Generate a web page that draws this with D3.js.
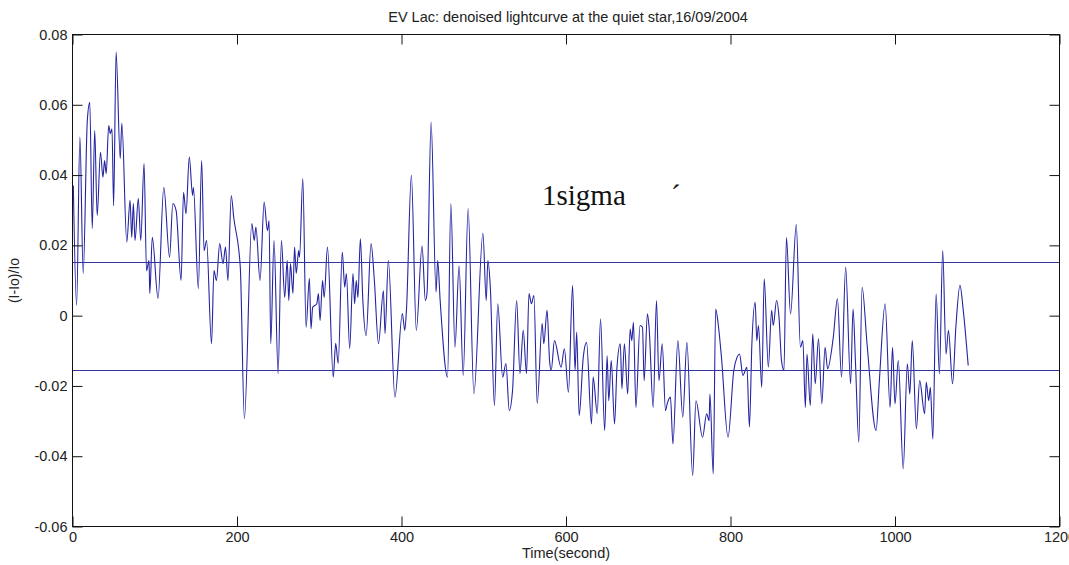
<!DOCTYPE html>
<html>
<head>
<meta charset="utf-8">
<script src="https://cdn.jsdelivr.net/npm/d3@7"></script>
<style>
  html, body { margin: 0; padding: 0; background: #fff; }
  svg { display: block; }
  text { font-family: "Liberation Sans", Arial, sans-serif; fill: #222; }
  text.note { font-family: "Liberation Serif", "Times New Roman", serif; fill: #111; }
</style>
</head>
<body>
<svg id="chart" width="1069" height="565"></svg>
<script>
// EV Lac relative intensity (I-Io)/Io versus time, after denoising
const time = [1,5,9,13,18,21,24,27,30,34,37,39,41,44,46,48,50,53,58,60,66,70,72,74,76,80,83,87,90,93,94,97,104,111,118,122,126,132,135,138,142,146,147,153,157,160,163,169,172,175,179,183,186,189,193,196,204,209,218,221,223,228,233,237,239,241,245,250,254,258,261,263,265,268,270,272,275,276,280,284,288,290,292,297,299,
  301,304,306,310,317,320,323,328,331,333,337,341,343,345,347,350,353,357,363,367,372,378,380,384,392,401,404,406,412,418,425,429,431,436,442,444,447,456,460,465,470,475,481,488,499,503,505,508,513,517,523,527,531,535,540,544,548,552,555,558,561,565,571,573,577,580,582,586,594,
  598,603,608,611,613,616,621,625,631,633,638,642,647,650,652,655,659,662,666,668,671,675,678,680,682,685,690,693,695,699,701,706,710,713,717,721,723,727,730,736,742,747,754,758,766,771,774,775,779,782,785,789,797,804,808,811,815,820,823,826,830,832,834,838,841,846,850,852,856,859,862,865,868,873,880,885,888,891,
  893,897,900,903,907,911,915,918,925,930,935,940,946,949,952,956,960,966,977,981,988,994,997,1000,1004,1010,1015,1018,1021,1026,1030,1036,1038,1041,1043,1046,1050,1054,1058,1062,1065,1070,1074,1079,1083,1089];

const flux = [0.0370,0.0029,0.0508,0.0120,0.0555,0.0607,0.0248,0.0527,0.0285,0.0465,0.0394,0.0441,0.0404,0.0541,0.0518,0.0532,0.0313,0.0750,0.0447,0.0547,0.0209,0.0328,0.0223,0.0319,0.0214,0.0333,0.0214,0.0433,0.0128,0.0157,0.0063,0.0223,0.0049,0.0365,0.0166,0.0319,0.0299,0.0100,0.0351,0.0290,0.0451,0.0342,0.0365,0.0077,0.0441,0.0185,0.0214,-0.0080,0.0128,0.0100,0.0205,0.0148,0.0195,0.0100,0.0342,0.0280,0.0138,-0.0293,0.0262,0.0214,0.0252,0.0100,0.0323,0.0242,0.0270,-0.0080,0.0214,-0.0165,0.0214,0.0052,0.0157,0.0043,0.0148,0.0063,0.0195,0.0120,0.0185,0.0166,0.0390,-0.0033,0.0106,-0.0037,0.0024,0.0034,0.0063,
  -0.0014,0.0100,0.0052,0.0195,-0.0175,-0.0079,-0.0136,0.0180,0.0081,0.0120,-0.0094,0.0120,0.0034,0.0100,0.0052,0.0219,0.0043,-0.0057,0.0205,0.0100,-0.0080,0.0071,-0.0051,0.0157,-0.0232,0.0006,-0.0042,0.0015,0.0399,-0.0042,0.0199,0.0043,0.0063,0.0550,0.0067,0.0157,0.0043,-0.0175,0.0319,-0.0090,0.0142,-0.0170,0.0305,-0.0222,0.0234,0.0043,0.0157,0.0081,-0.0256,0.0034,-0.0175,-0.0136,-0.0270,-0.0213,0.0043,-0.0165,-0.0042,-0.0165,0.0063,0.0034,0.0057,-0.0250,-0.0022,-0.0080,0.0015,-0.0128,-0.0156,-0.0071,-0.0147,
  -0.0094,-0.0218,0.0086,-0.0156,-0.0047,-0.0284,-0.0118,-0.0076,-0.0308,-0.0175,-0.0279,-0.0009,-0.0327,-0.0114,-0.0242,-0.0128,-0.0308,-0.0147,-0.0080,-0.0208,-0.0080,-0.0223,-0.0038,-0.0071,-0.0019,-0.0261,-0.0028,-0.0033,-0.0185,0.0005,-0.0033,-0.0261,0.0043,-0.0185,-0.0080,-0.0270,-0.0251,-0.0232,-0.0365,-0.0071,-0.0289,-0.0076,-0.0455,-0.0242,-0.0346,-0.0279,-0.0299,-0.0223,-0.0450,0.0019,-0.0023,-0.0118,-0.0346,-0.0156,-0.0118,-0.0109,-0.0170,-0.0147,-0.0317,-0.0080,0.0038,-0.0071,-0.0028,-0.0204,0.0105,-0.0147,0.0015,-0.0028,0.0043,-0.0005,-0.0128,-0.0156,0.0222,0.0005,0.0259,-0.0090,-0.0071,-0.0261,
  -0.0109,-0.0256,-0.0052,-0.0194,-0.0066,-0.0251,-0.0090,-0.0151,-0.0061,0.0048,-0.0175,0.0138,-0.0194,0.0019,-0.0137,-0.0360,0.0081,-0.0080,-0.0327,-0.0185,0.0034,-0.0261,-0.0090,-0.0251,-0.0128,-0.0436,-0.0137,-0.0223,-0.0071,-0.0322,-0.0185,-0.0279,-0.0190,-0.0242,-0.0204,-0.0351,0.0062,-0.0166,0.0185,-0.0109,-0.0042,-0.0194,-0.0033,0.0086,0.0015,-0.0142];

// one-sigma band drawn as two horizontal reference lines
const sigmaLevels = [0.0154, -0.0154];

const xTicks = [0, 200, 400, 600, 800, 1000, 1200];
const yTicks = [-0.06, -0.04, -0.02, 0, 0.02, 0.04, 0.06, 0.08];

const titleText = "EV Lac: denoised lightcurve at the quiet star,16/09/2004";
const xLabel = "Time(second)";
const yLabel = "(I-Io)/Io";

const svg = d3.select("#chart");
const plotLeft = 72.5, plotRight = 1059.5, plotTop = 34.5, plotBottom = 526.5;
const tickLen = 10;
const lineColor = "#2424a2";

const x = d3.scaleLinear().domain([0, 1200]).range([plotLeft, plotRight]);
const y = d3.scaleLinear().domain([-0.06, 0.08]).range([plotBottom, plotTop]);

// light curve
const pts = time.map((t, i) => [t, flux[i]]);
svg.append("path")
  .datum(pts)
  .attr("fill", "none")
  .attr("stroke", lineColor)
  .attr("stroke-width", 1.1)
  .attr("stroke-linejoin", "round")
  .attr("d", d3.line().x(d => x(d[0])).y(d => y(d[1])).curve(d3.curveMonotoneX));

// sigma lines across the full axis width
svg.selectAll("line.sigma")
  .data(sigmaLevels)
  .join("line")
  .attr("class", "sigma")
  .attr("x1", plotLeft).attr("x2", plotRight)
  .attr("y1", d => Math.round(y(d)) + 0.5)
  .attr("y2", d => Math.round(y(d)) + 0.5)
  .attr("stroke", "#34349e")
  .attr("stroke-width", 1.1);

// axes: bottom / left with labels, top / right mirrored ticks only
const fmtY = d => d === 0 ? "0" : d3.format(".2f")(d).replace("\u2212", "-");
const axisStyle = g => {
  g.select(".domain").remove();
  g.selectAll(".tick line").attr("stroke", "#111");
  g.selectAll(".tick text").style("font-size", "14.5px").style("fill", "#222");
};

svg.append("g")
  .attr("transform", `translate(0,${plotBottom})`)
  .call(d3.axisBottom(x).tickValues(xTicks).tickSizeInner(-tickLen).tickSizeOuter(0).tickPadding(5).tickFormat(d3.format("d")))
  .call(axisStyle);

svg.append("g")
  .attr("transform", `translate(0,${plotTop})`)
  .call(d3.axisTop(x).tickValues(xTicks).tickSizeInner(-tickLen).tickSizeOuter(0).tickFormat(""))
  .call(axisStyle);

svg.append("g")
  .attr("transform", `translate(${plotLeft},0)`)
  .call(d3.axisLeft(y).tickValues(yTicks).tickSizeInner(-tickLen).tickSizeOuter(0).tickPadding(5).tickFormat(fmtY))
  .call(axisStyle);

svg.append("g")
  .attr("transform", `translate(${plotRight},0)`)
  .call(d3.axisRight(y).tickValues(yTicks).tickSizeInner(-tickLen).tickSizeOuter(0).tickFormat(""))
  .call(axisStyle);

// plot frame
svg.append("rect")
  .attr("x", plotLeft).attr("y", plotTop)
  .attr("width", plotRight - plotLeft).attr("height", plotBottom - plotTop)
  .attr("fill", "none").attr("stroke", "#111").attr("stroke-width", 1);

// title and axis labels
svg.append("text")
  .attr("x", (plotLeft + plotRight) / 2 + 2).attr("y", 21.5)
  .attr("text-anchor", "middle").style("font-size", "14.5px")
  .text(titleText);

svg.append("text")
  .attr("x", (plotLeft + plotRight) / 2).attr("y", 558)
  .attr("text-anchor", "middle").style("font-size", "14.5px")
  .text(xLabel);

svg.append("text")
  .attr("transform", `translate(18.5,${(plotTop + plotBottom) / 2}) rotate(-90)`)
  .attr("text-anchor", "middle").style("font-size", "14px")
  .text(yLabel);

// annotation
svg.append("text")
  .attr("class", "note")
  .attr("x", 542).attr("y", 205)
  .style("font-size", "29px")
  .text("1sigma");

svg.append("text")
  .attr("class", "note")
  .attr("x", 671).attr("y", 205)
  .style("font-size", "29px")
  .text("\u00B4");
</script>
</body>
</html>
